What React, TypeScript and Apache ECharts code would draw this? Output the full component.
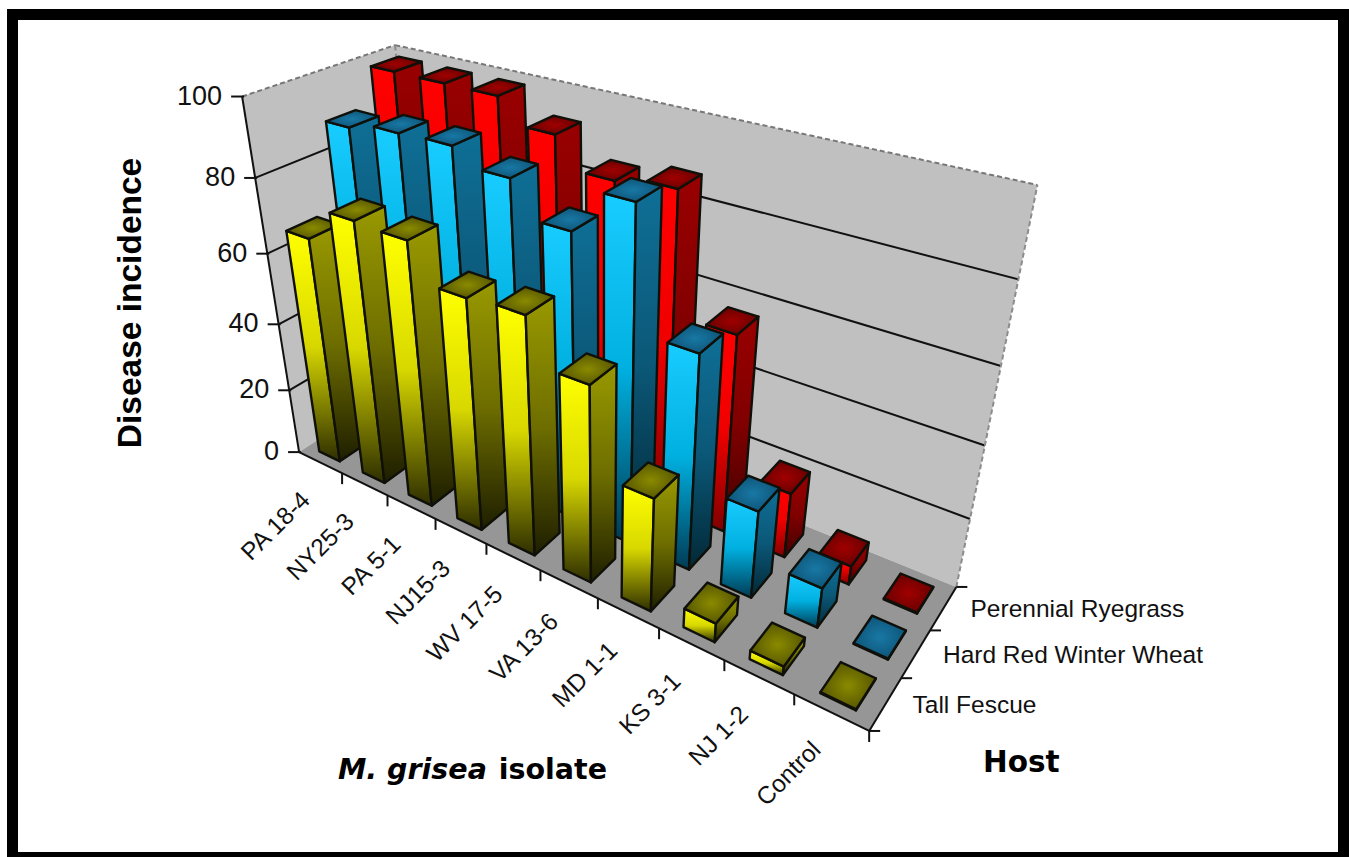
import React, { useEffect, useRef } from "react";
import * as echarts from "echarts";

const isolates = ["PA 18-4", "NY25-3", "PA 5-1", "NJ15-3", "WV 17-5", "VA 13-6", "MD 1-1", "KS 3-1", "NJ 1-2", "Control"];
const hosts = ["Tall Fescue", "Hard Red Winter Wheat", "Perennial Ryegrass"];
const valueTicks = [0, 20, 40, 60, 80, 100];
const tallFescue = [66, 75, 74.5, 65, 66, 54.5, 32, 5.5, 2.5, 0.3];
const hardRedWinterWheat = [89, 91, 91.5, 87.5, 79, 90, 59.5, 25, 11.5, 0.3];
const perennialRyegrass = [98.5, 98.5, 98.5, 92.5, 85, 87, 56, 19, 5.5, 0.3];

const W = 1349;
const H = 857;

// Calibration of the perspective: unit cube point -> picture point
const calibration: number[][] = [
  [0, 0, 0, 299, 451], [1, 0, 0, 868, 730], [1, 1, 0, 955, 587],
  [0, 0, 1, 243, 95], [0, 1, 1, 395, 45], [1, 1, 1, 1037, 185],
  [0, 0, 0.2, 290, 390], [0, 0, 0.4, 278, 326], [0, 0, 0.6, 267, 255], [0, 0, 0.8, 255, 178],
  [0.5, 0, 0, 541, 570], [0.2, 0, 0, 387, 495], [0.8, 0, 0, 723, 662],
  [1, 1 / 3, 0, 903, 677], [1, 2 / 3, 0, 932, 631],
];

function solveCamera(): number[] {
  const n = 11;
  const A: number[][] = Array.from({ length: n }, () => new Array(n + 1).fill(0));
  const add = (row: number[], rhs: number) => {
    for (let i = 0; i < n; i++) {
      for (let j = 0; j < n; j++) A[i][j] += row[i] * row[j];
      A[i][n] += row[i] * rhs;
    }
  };
  for (const [X, Y, Z, pu, pv] of calibration) {
    const u = pu / 1000;
    const v = pv / 1000;
    add([X, Y, Z, 1, 0, 0, 0, 0, -u * X, -u * Y, -u * Z], u);
    add([0, 0, 0, 0, X, Y, Z, 1, -v * X, -v * Y, -v * Z], v);
  }
  for (let c = 0; c < n; c++) {
    let p = c;
    for (let r = c + 1; r < n; r++) if (Math.abs(A[r][c]) > Math.abs(A[p][c])) p = r;
    [A[c], A[p]] = [A[p], A[c]];
    for (let r = 0; r < n; r++) {
      if (r === c) continue;
      const f = A[r][c] / A[c][c];
      for (let k = c; k <= n; k++) A[r][k] -= f * A[c][k];
    }
  }
  return A.map((row, i) => row[n] / row[i]);
}
const cam = solveCamera();
function project(x: number, y: number, z: number): number[] {
  const d = cam[8] * x + cam[9] * y + cam[10] * z + 1;
  return [
    (1000 * (cam[0] * x + cam[1] * y + cam[2] * z + cam[3])) / d,
    (1000 * (cam[4] * x + cam[5] * y + cam[6] * z + cam[7])) / d,
  ];
}

const BAR_X = 0.024;
const BAR_Y = 0.1;
const OUTLINE = "#10100a";

type Pal = { front: string[]; side: string[]; top: string[] };
const palettes: Pal[] = [
  { front: ["#ffff00", "#d8d800", "#2e2e00"], side: ["#999900", "#6e6e00", "#1e1e00"], top: ["#8a8a00", "#4e4e00"] },
  { front: ["#19ccff", "#00b0e0", "#003b54"], side: ["#0f6f96", "#0b5878", "#022836"], top: ["#1878a4", "#0c4f72"] },
  { front: ["#ff0000", "#f00000", "#800000"], side: ["#990000", "#800000", "#400000"], top: ["#a00000", "#600000"] },
];

function grad(c: string[]) {
  return new echarts.graphic.LinearGradient(0, 0, 0, 1, [
    { offset: 0, color: c[0] },
    { offset: 0.5, color: c[1] },
    { offset: 1, color: c[2] },
  ]);
}

function unitOf(params: any, api: any, cat: number, val: number) {
  const p = api.coord([cat, val]);
  const cs = params.coordSys;
  return [(p[0] - cs.x) / cs.width, 1 - (p[1] - cs.y) / cs.height];
}

function barRenderer(hostIndex: number) {
  return (params: any, api: any) => {
    const [u, z] = unitOf(params, api, api.value(0), api.value(1));
    const v = (hostIndex + 0.5) / hosts.length;
    const x0 = u - BAR_X, x1 = u + BAR_X, y0 = v - BAR_Y, y1 = v + BAR_Y;
    const pal = palettes[hostIndex];
    const poly = (pts: number[][], fill: any) => ({
      type: "polygon",
      shape: { points: pts },
      style: { fill, stroke: OUTLINE, lineWidth: 2.4, lineJoin: "round" },
      silent: true,
    });
    return {
      type: "group",
      children: [
        poly([project(x0, y0, 0), project(x1, y0, 0), project(x1, y0, z), project(x0, y0, z)], grad(pal.front)),
        poly([project(x1, y0, 0), project(x1, y1, 0), project(x1, y1, z), project(x1, y0, z)], grad(pal.side)),
        poly(
          [project(x0, y0, z), project(x1, y0, z), project(x1, y1, z), project(x0, y1, z)],
          new echarts.graphic.RadialGradient(0.5, 0.5, 0.6, [
            { offset: 0, color: pal.top[0] },
            { offset: 1, color: pal.top[1] },
          ])
        ),
      ],
    };
  };
}

function seg(a: number[], b: number[], stroke = "#111", lineWidth = 2, lineDash?: number[]) {
  return {
    type: "line",
    shape: { x1: a[0], y1: a[1], x2: b[0], y2: b[1] },
    style: { stroke, lineWidth, lineDash },
    silent: true,
  };
}

function renderBase() {
  const wall = "#c0c0c0";
  const children: any[] = [
    { type: "rect", shape: { x: 7, y: 9, width: W - 7, height: H - 9 }, style: { fill: "#000" }, silent: true },
    { type: "rect", shape: { x: 18, y: 20, width: 1320, height: 832 }, style: { fill: "#fff" }, silent: true },
    { type: "polygon", shape: { points: [project(0, 0, 0), project(0, 1, 0), project(0, 1, 1), project(0, 0, 1)] }, style: { fill: wall }, silent: true },
    { type: "polygon", shape: { points: [project(0, 1, 0), project(1, 1, 0), project(1, 1, 1), project(0, 1, 1)] }, style: { fill: wall }, silent: true },
    { type: "polygon", shape: { points: [project(0, 0, 0), project(1, 0, 0), project(1, 1, 0), project(0, 1, 0)] }, style: { fill: "#969696" }, silent: true },
  ];
  valueTicks.forEach((t) => {
    const z = t / 100;
    if (t === 0) return;
    const c = t === 100 ? "#777" : "#111";
    const d = t === 100 ? [5, 3] : undefined;
    children.push(seg(project(0, 0, z), project(0, 1, z), c, 2, d));
    children.push(seg(project(0, 1, z), project(1, 1, z), c, 2, d));
  });
  children.push(seg(project(1, 1, 0), project(1, 1, 1), "#8c8c8c", 2, [5, 3]));
  children.push(seg(project(0, 1, 0.9), project(0, 1, 1), "#8c8c8c", 2, [5, 3]));
  children.push(seg(project(0, 0, 0), project(0, 0, 1)));
  children.push(seg(project(0, 0, 0), project(1, 0, 0)));
  children.push(seg(project(1, 0, 0), project(1, 1, 0)));
  valueTicks.forEach((t) => {
    const p = project(0, 0, t / 100);
    children.push(seg([p[0] - 11, p[1]], [p[0] + 2, p[1]]));
  });
  isolates.forEach((_, i) => {
    const p = project((i + 1) / isolates.length, 0, 0);
    children.push(seg(p, [p[0], p[1] + 11]));
  });
  hosts.forEach((_, j) => {
    const p = project(1, j / hosts.length, 0);
    children.push(seg(p, [p[0] + 11, p[1]]));
  });
  const last = project(1, 1, 0);
  children.push(seg(last, [last[0] + 11, last[1]]));
  return { type: "group", children };
}

const textStyle = (text: string, extra: any = {}) => ({
  text,
  fill: "#111",
  fontFamily: "Liberation Sans",
  fontSize: 24.5,
  ...extra,
});

function catLabelRenderer(params: any, api: any) {
  const i = api.value(0);
  const [u] = unitOf(params, api, i, 0);
  const p = project(u, 0, 0);
  return {
    type: "text",
    x: p[0] - 15,
    y: p[1] + 33,
    rotation: Math.PI / 4,
    style: textStyle(isolates[i], { textAlign: "right", textVerticalAlign: "middle" }),
    silent: true,
  };
}

function valueLabelRenderer(params: any, api: any) {
  const v = api.value(1);
  const [, z] = unitOf(params, api, 0, v);
  const p = project(0, 0, z);
  return {
    type: "text",
    x: p[0] - 20,
    y: p[1] - 1,
    style: textStyle(String(v), { fontSize: 27, textAlign: "right", textVerticalAlign: "middle" }),
    silent: true,
  };
}

function hostLabelRenderer(params: any, api: any) {
  const j = api.value(0);
  const p = project(1, (j + 0.5) / hosts.length, 0);
  return {
    type: "text",
    x: p[0] + 27,
    y: p[1] + 0.5,
    style: textStyle(hosts[j], { textAlign: "left", textVerticalAlign: "middle" }),
    silent: true,
  };
}

const titleFont = { fontFamily: "DejaVu Sans", fontWeight: "bold", fill: "#000" };

function renderTitles() {
  return {
    type: "group",
    children: [
      {
        type: "text", x: 129, y: 303, rotation: Math.PI / 2,
        style: { text: "Disease incidence", fontSize: 33.5, fontFamily: "Liberation Sans", fontWeight: "bold", fill: "#000", textAlign: "center", textVerticalAlign: "middle" },
        silent: true,
      },
      {
        type: "text", x: 338, y: 769,
        style: {
          text: "{i|M. grisea} {b|isolate}",
          fontSize: 28.5,
          ...titleFont,
          textVerticalAlign: "middle",
          textAlign: "left",
          rich: {
            i: { fontSize: 28.5, fontStyle: "italic", ...titleFont },
            b: { fontSize: 28.5, padding: [0, 0, 0, 2], ...titleFont },
          },
        },
        silent: true,
      },
      {
        type: "text", x: 983, y: 762,
        style: { text: "Host", fontSize: 29.5, textAlign: "left", textVerticalAlign: "middle", ...titleFont },
        silent: true,
      },
    ],
  };
}

export default function App() {
  const ref = useRef<HTMLDivElement>(null);
  useEffect(() => {
    document.body.style.margin = "0";
    const chart = echarts.init(ref.current!, undefined, { renderer: "svg" });
    const series: any[] = [
      { type: "custom", renderItem: renderBase, data: [[0, 0]], clip: false, z: 1 },
      { type: "custom", renderItem: barRenderer(2), data: perennialRyegrass.map((v, i) => [i, v]), clip: false, z: 2 },
      { type: "custom", renderItem: barRenderer(1), data: hardRedWinterWheat.map((v, i) => [i, v]), clip: false, z: 3 },
      { type: "custom", renderItem: barRenderer(0), data: tallFescue.map((v, i) => [i, v]), clip: false, z: 4 },
      { type: "custom", renderItem: catLabelRenderer, data: isolates.map((_, i) => [i, 0]), clip: false, z: 5 },
      { type: "custom", renderItem: valueLabelRenderer, data: valueTicks.map((t) => [0, t]), clip: false, z: 5 },
      { type: "custom", renderItem: hostLabelRenderer, data: hosts.map((_, j) => [j, 0]), clip: false, z: 5 },
      { type: "custom", renderItem: renderTitles, data: [[0, 0]], clip: false, z: 5 },
    ];
    chart.setOption({
      animation: false,
      backgroundColor: "#fff",
      grid: { left: 0, right: 0, top: 0, bottom: 0 },
      xAxis: { type: "category", data: isolates, show: false },
      yAxis: { type: "value", min: 0, max: 100, interval: 20, show: false },
      series,
    });
    return () => chart.dispose();
  }, []);
  return <div ref={ref} style={{ width: W, height: H }} />;
}
